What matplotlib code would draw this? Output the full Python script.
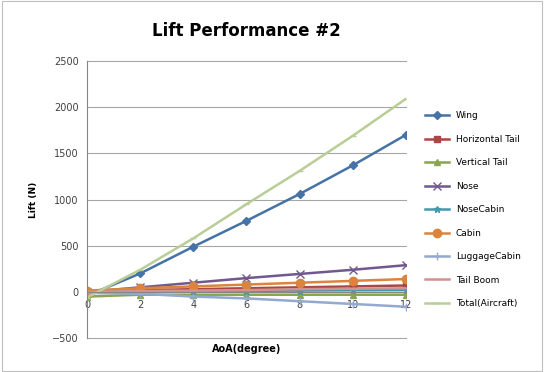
import matplotlib
matplotlib.use("Agg")
import matplotlib.pyplot as plt
from matplotlib.patches import Rectangle

# ------------------------------------------------------------
# Data
# ------------------------------------------------------------

aoa = [0, 2, 4, 6, 8, 10, 12]

wing = [-40, 200, 490, 770, 1060, 1370, 1700]
horizontal_tail = [0, 20, 30, 40, 50, 60, 70]
vertical_tail = [-50, -30, -30, -30, -30, -30, -30]
nose = [0, 50, 100, 150, 195, 240, 290]
nose_cabin = [0, 5, 10, 12, 15, 18, 20]
cabin = [15, 40, 60, 80, 100, 120, 140]
luggage_cabin = [-10, -20, -50, -70, -100, -130, -160]
tail_boom = [0, 10, 15, 20, 30, 35, 40]
total = [-60, 240, 580, 950, 1310, 1690, 2090]

series_names = ["Wing", "Horizontal Tail", "Vertical Tail", "Nose", "NoseCabin",
                "Cabin", "LuggageCabin", "Tail Boom", "Total(Aircraft)"]
series_values = [wing, horizontal_tail, vertical_tail, nose, nose_cabin,
                 cabin, luggage_cabin, tail_boom, total]

y_ticks = [-500, 0, 500, 1000, 1500, 2000, 2500]

# ------------------------------------------------------------
# Styles (Excel 2007 palette)
# ------------------------------------------------------------

colors = ["#4572A7", "#AA4643", "#89A54E", "#71588F", "#4198AF",
          "#DB843D", "#93A9CF", "#D19392", "#B9CD96"]
markers = ["D", "s", "^", "x", "*", "o", "+", "_", "_"]
marker_sizes = [4, 5, 5, 6, 5, 6, 6, 6, 5]

fig = plt.figure(figsize=(5.44, 3.72), dpi=100)
fig.patches.append(Rectangle((0.003, 0.003), 0.994, 0.994, transform=fig.transFigure,
                             fill=False, edgecolor="#bfbfbf", linewidth=0.8))

ax = fig.add_axes([0.16, 0.091, 0.586, 0.745])

handles = []
for name, values, color, marker, ms in zip(series_names, series_values, colors, markers, marker_sizes):
    line, = ax.plot(aoa, values, color=color, marker=marker, markersize=ms,
                    linewidth=1.8, markeredgewidth=1.0, label=name)
    handles.append(line)

ax.set_xlim(0, 12)
ax.set_ylim(-500, 2500)
ax.set_xticks(aoa)
ax.set_yticks(y_ticks)
ax.yaxis.grid(True, color="#a6a6a6", linewidth=0.8)
for gl in ax.yaxis.get_gridlines():
    gl.set_clip_on(False)
ax.set_axisbelow(True)

ax.spines["top"].set_visible(False)
ax.spines["right"].set_visible(False)
ax.spines["bottom"].set_position(("data", 0))
ax.spines["left"].set_color("#868686")
ax.spines["bottom"].set_color("#868686")
ax.tick_params(axis="both", labelsize=7, length=0, colors="#404040", pad=6)

ax.set_title("Lift Performance #2", fontsize=12, fontweight="bold", pad=18)
ax.set_ylabel("Lift (N)", fontsize=6.5, fontweight="bold", labelpad=10)
ax.set_xlabel("AoA(degree)", fontsize=7, fontweight="bold", va="top")
ax.xaxis.set_label_coords(0.5, -0.02)

fig.legend(handles=handles, loc="upper left", bbox_to_anchor=(0.775, 0.71),
           frameon=False, fontsize=6.5, handlelength=2.6, labelspacing=1.6,
           borderaxespad=0)

fig.savefig("out.png", dpi=100)
